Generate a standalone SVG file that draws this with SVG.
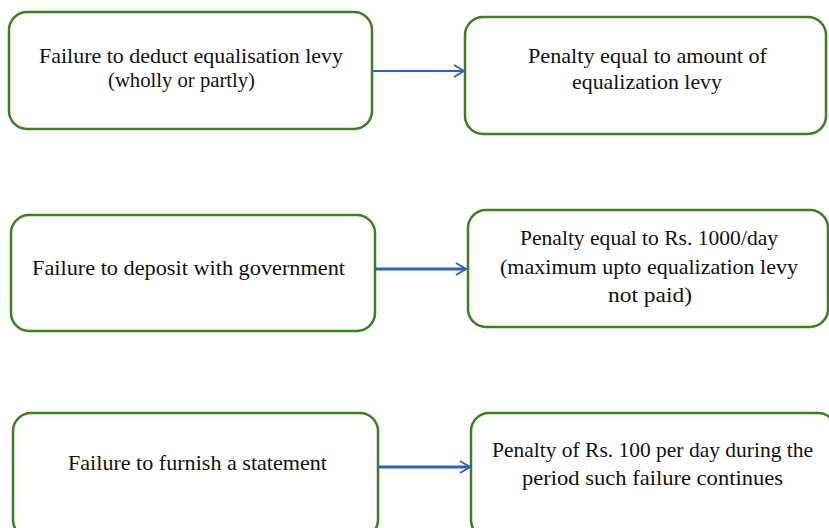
<svg xmlns="http://www.w3.org/2000/svg" width="829" height="528" viewBox="0 0 829 528">
<style>
.box{fill:#fff;stroke:#3f7f1f;stroke-width:2.5}
.t{font-family:"Liberation Serif","Times New Roman",serif;font-size:22px;fill:#111}
.c{stroke:#2e62b8;stroke-width:2;fill:none}
.c2{stroke-width:2.8}
</style>
<defs>
<marker id="ah" viewBox="0 0 12 14" refX="11" refY="7" markerWidth="12" markerHeight="14" markerUnits="userSpaceOnUse" orient="auto">
<path d="M1,1 L11,7 L1,13" fill="none" stroke="#2e62b8" stroke-width="2"/>
</marker>
</defs>
<rect width="829" height="528" fill="#fff"/>
<g id="n1"><rect class="box" x="9" y="12" width="363" height="117" rx="18"/>
<text class="t" x="39" y="63" textLength="304" lengthAdjust="spacingAndGlyphs">Failure to deduct equalisation levy</text>
<text class="t" x="108" y="87" textLength="147" lengthAdjust="spacingAndGlyphs">(wholly or partly)</text></g>
<g id="n2"><rect class="box" x="465" y="17" width="361" height="117" rx="18"/>
<text class="t" x="528" y="63" textLength="239" lengthAdjust="spacingAndGlyphs">Penalty equal to amount of</text>
<text class="t" x="572" y="89" textLength="150" lengthAdjust="spacingAndGlyphs">equalization levy</text></g>
<g id="n3"><rect class="box" x="11" y="215" width="364" height="116" rx="18"/>
<text class="t" x="32" y="275" textLength="313" lengthAdjust="spacingAndGlyphs">Failure to deposit with government</text></g>
<g id="n4"><rect class="box" x="468" y="210" width="360" height="117" rx="18"/>
<text class="t" x="520" y="245" textLength="258" lengthAdjust="spacingAndGlyphs">Penalty equal to Rs. 1000/day</text>
<text class="t" x="500" y="274" textLength="298" lengthAdjust="spacingAndGlyphs">(maximum upto equalization levy</text>
<text class="t" x="608" y="302" textLength="84" lengthAdjust="spacingAndGlyphs">not paid)</text></g>
<g id="n5"><rect class="box" x="13" y="413" width="365" height="125" rx="18"/>
<text class="t" x="68" y="470" textLength="259" lengthAdjust="spacingAndGlyphs">Failure to furnish a statement</text></g>
<g id="n6"><rect class="box" x="471" y="413" width="365" height="125" rx="18"/>
<text class="t" x="492" y="457" textLength="321" lengthAdjust="spacingAndGlyphs">Penalty of Rs. 100 per day during the</text>
<text class="t" x="522" y="485" textLength="261" lengthAdjust="spacingAndGlyphs">period such failure continues</text></g>
<g id="connectors">
<path class="c" d="M372,71 H464" marker-end="url(#ah)"/>
<path class="c c2" d="M375,269 H466" marker-end="url(#ah)"/>
<path class="c c2" d="M378,467 H470" marker-end="url(#ah)"/>
</g>
</svg>
